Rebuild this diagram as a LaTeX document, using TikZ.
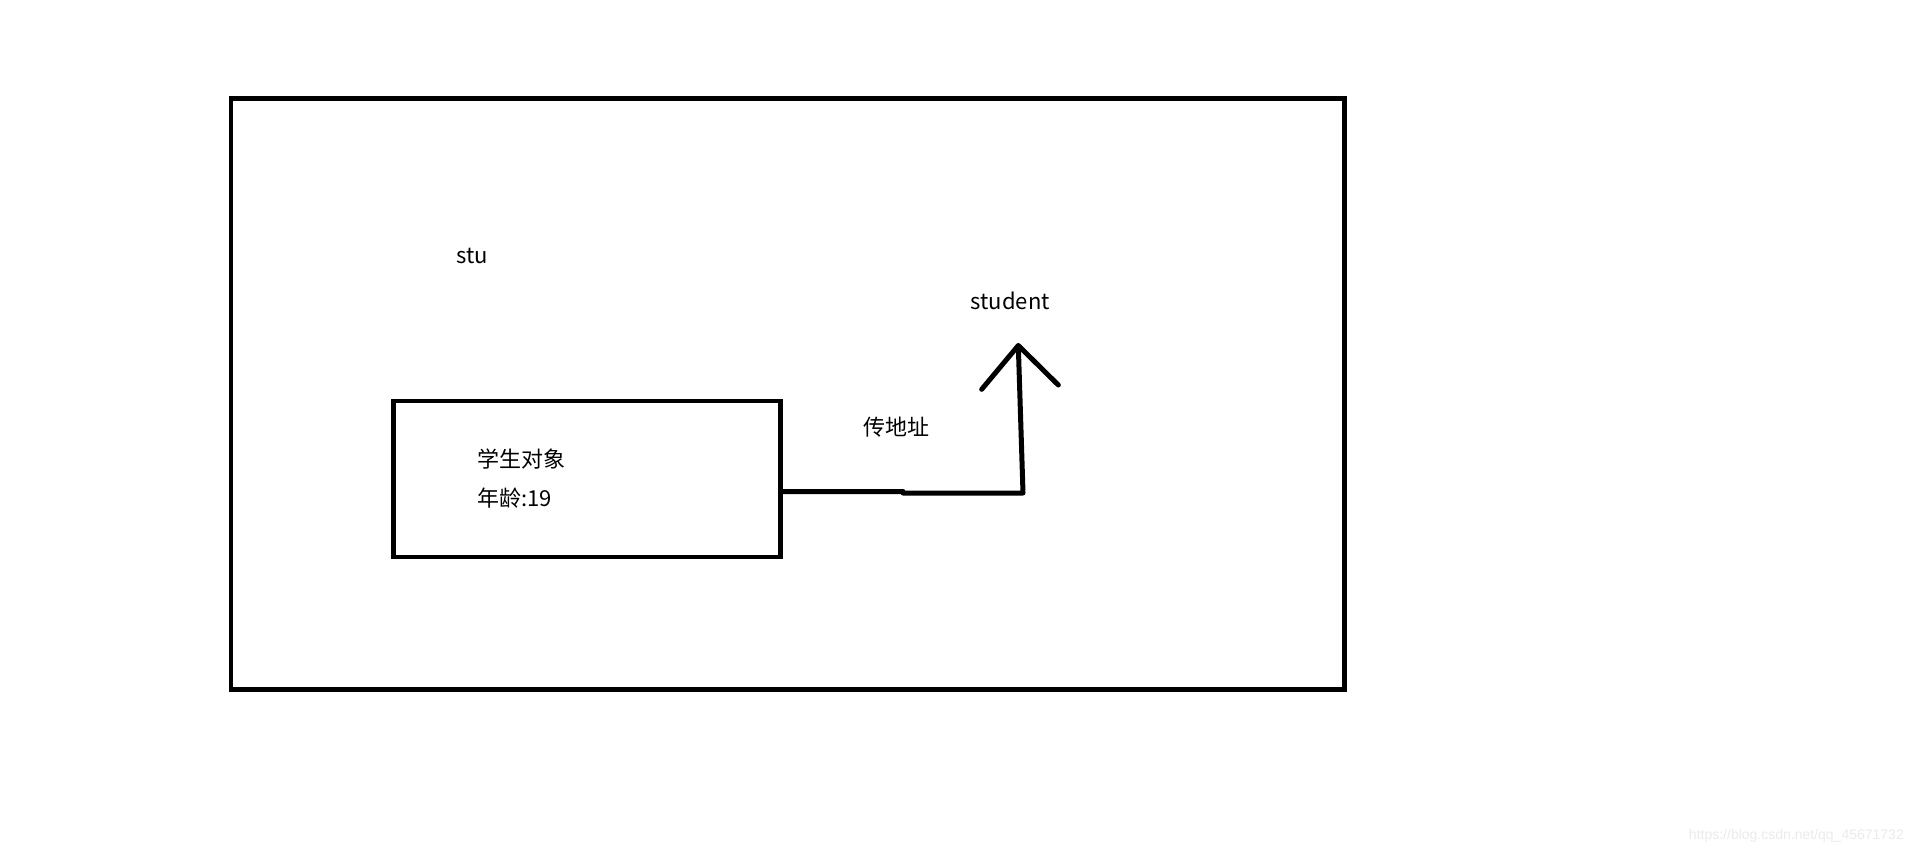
\documentclass[tikz,border=0pt]{standalone}
\usepackage{fontspec}
\setmainfont{Noto Sans CJK SC}
\newfontfamily\wmfont{Liberation Sans}
\begin{document}
\begin{tikzpicture}[x=1pt,y=-1pt,
  lbl/.style={inner sep=0pt,font=\fontsize{22}{26}\selectfont,text=black},
  conn/.style={draw=black,line width=5pt,line cap=round,line join=round}]
\useasboundingbox[fill=white] (0,0) rectangle (1914,852);
% outer frame
\draw[line width=4.8pt] (231,98.5) rectangle (1344.5,689.5);
% inner object box
\node[draw=black,line width=4.5pt,minimum width=387pt,minimum height=156pt,inner sep=0pt,outer sep=0pt,anchor=north west] (obj) at (393.5,401) {};
% texts
\node[lbl,anchor=base west] (stu) at (456.5,263.5) {stu};
\node[lbl,anchor=base west] (student) at (970.5,309.5) {student};
\node[lbl] (addr) at (896,427.5) {传地址};
\node[lbl,anchor=west] (obj1) at (477,459) {学生对象};
\node[lbl,anchor=west] (obj2) at (477,498) {年龄:19};
% connector
\coordinate (c0) at (obj.east |- 0,491.5);
\coordinate (c1) at (903,491.5);
\coordinate (c2) at (903,493);
\coordinate (c3) at (1023,493);
\coordinate (tip) at (1018.3,345.5);
\coordinate (hl) at (981.7,389.3);
\coordinate (hr) at (1058.3,385);
\draw[conn,line cap=butt] (c0) -- (c1) -- (c2) -- (c3) -- (tip);
\draw[conn] (hl) -- (tip) -- (hr);
% watermark
\node[inner sep=0pt,anchor=base east,font=\wmfont\fontsize{14}{16}\selectfont,text=black!8] (wm) at (1904,839) {https://blog.csdn.net/qq\_45671732};
\end{tikzpicture}
\end{document}
